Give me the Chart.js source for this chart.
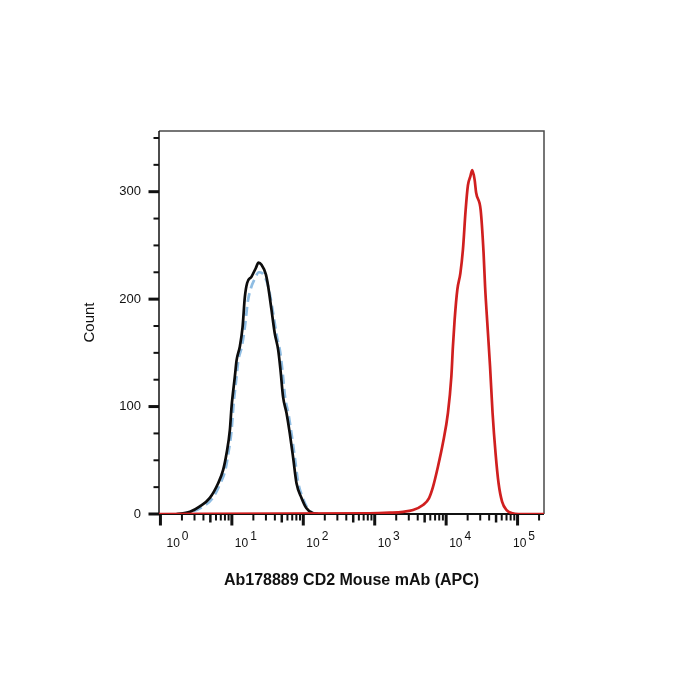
<!DOCTYPE html>
<html>
<head>
<meta charset="utf-8">
<script src="https://cdn.jsdelivr.net/npm/chart.js@4.4.0/dist/chart.umd.min.js"></script>
<style>
html, body { margin: 0; padding: 0; background: #fff; }
#wrap { width: 700px; height: 700px; }
</style>
</head>
<body>
<div id="wrap"><canvas id="chart" width="700" height="700"></canvas></div>
<script>
// x = log10(APC intensity), y = event count
var blackX = [0.227, 0.413, 0.552, 0.692, 0.808, 0.878, 0.926, 0.972, 0.996, 1.042, 1.066, 1.112, 1.150, 1.182, 1.214, 1.276, 1.336, 1.373, 1.415, 1.476, 1.508, 1.555, 1.601, 1.648, 1.681, 1.717, 1.765, 1.811, 1.857, 1.905, 1.975, 2.045, 2.137, 2.207];
var blackY = [0, 2, 7, 15, 28.6, 41, 56.5, 78, 100, 128, 143, 156, 174, 202, 215, 221, 229, 234, 232, 223, 212, 190, 168, 153, 134, 109, 94, 75, 53, 28.6, 15, 5.3, 0.6, 0];

var blueX = [0.273, 0.455, 0.594, 0.734, 0.839, 0.909, 0.951, 0.996, 1.021, 1.066, 1.091, 1.140, 1.182, 1.224, 1.266, 1.322, 1.378, 1.427, 1.490, 1.531, 1.580, 1.629, 1.676, 1.709, 1.745, 1.793, 1.835, 1.881, 1.927, 1.993, 2.063, 2.147, 2.217];
var blueY = [0, 2.5, 7, 15, 28.6, 41, 56.5, 78, 100, 128, 143, 156, 174, 198, 210, 219, 225, 224, 216, 205, 186, 166, 151, 133, 109, 93, 75, 53, 30, 15, 5, 0.6, 0];

var redX = [-0.02, 2.930, 3.210, 3.396, 3.536, 3.676, 3.759, 3.815, 3.885, 3.955, 4.025, 4.073, 4.095, 4.119, 4.157, 4.199, 4.235, 4.273, 4.305, 4.338, 4.366, 4.399, 4.420, 4.483, 4.524, 4.545, 4.580, 4.615, 4.650, 4.692, 4.734, 4.783, 4.846, 4.930, 5.014, 5.37];
var redY = [0, 0.6, 1.2, 2, 3.7, 8.4, 14.6, 25, 44, 66, 94, 128, 156, 181, 209, 224, 246, 283, 306, 314, 320, 311, 299, 283, 243, 212, 174, 137, 94, 56.5, 28.6, 11.5, 3.7, 0.6, 0, 0];

var decades = [0, 1, 2, 3, 4, 5];
var yTicks = [0, 25, 50, 75, 100, 125, 150, 175, 200, 225, 250, 275, 300, 325, 350];
var yLabels = [0, 100, 200, 300];

var FONT = '"Liberation Sans", Arial, sans-serif';

function pts(xs, ys) {
  return xs.map(function (x, i) { return { x: x, y: ys[i] }; });
}

// frame, tick marks and 10^n labels
var axisPlugin = {
  id: 'flowAxes',
  beforeDatasetsDraw: function (chart) {
    var ctx = chart.ctx, a = chart.chartArea;
    var xs = chart.scales.x, ys = chart.scales.y;
    ctx.save();
    ctx.lineCap = 'butt';

    // top / right frame
    ctx.strokeStyle = '#4a4a4a';
    ctx.lineWidth = 1.5;
    ctx.beginPath();
    ctx.moveTo(a.left, a.top); ctx.lineTo(a.right, a.top); ctx.lineTo(a.right, a.bottom);
    ctx.stroke();

    // left axis
    ctx.strokeStyle = '#111';
    ctx.beginPath();
    ctx.moveTo(a.left, a.top); ctx.lineTo(a.left, a.bottom + 1);
    ctx.stroke();

    // y ticks
    ys.ticks.forEach(function (t) {
      var py = ys.getPixelForValue(t.value);
      var major = yLabels.indexOf(t.value) >= 0;
      ctx.lineWidth = major ? 3 : 2;
      ctx.beginPath();
      ctx.moveTo(a.left, py);
      ctx.lineTo(a.left - (major ? 10.5 : 5.5), py);
      ctx.stroke();
    });

    // bottom axis
    ctx.lineWidth = 2;
    ctx.beginPath();
    ctx.moveTo(a.left - 1, a.bottom); ctx.lineTo(a.right, a.bottom);
    ctx.stroke();

    // x ticks
    xs.ticks.forEach(function (t) {
      var px = xs.getPixelForValue(t.value);
      var len = 6.5, w = 2;
      if (t.kind === 1) { len = 11.5; w = 3; }
      else if (t.kind === 5) { len = 8.5; w = 2.5; }
      ctx.lineWidth = w;
      ctx.beginPath();
      ctx.moveTo(px, a.bottom);
      ctx.lineTo(px, a.bottom + len);
      ctx.stroke();
    });

    // decade labels: "10" with superscript exponent
    ctx.fillStyle = '#111';
    ctx.textBaseline = 'alphabetic';
    ctx.textAlign = 'left';
    ctx.font = '12px ' + FONT;
    decades.forEach(function (n) {
      var px = xs.getPixelForValue(n);
      var w10 = ctx.measureText('10').width;
      var we = ctx.measureText(String(n)).width;
      var total = w10 + 2 + we;
      var left = px + 3;
      left = Math.max(left, a.left + 7.5);
      left = Math.min(left, a.right - 9 - total);
      ctx.fillText('10', left, a.bottom + 33);
      ctx.fillText(String(n), left + w10 + 2, a.bottom + 25.5);
    });
    ctx.restore();
  }
};

new Chart(document.getElementById('chart'), {
  type: 'line',
  data: {
    datasets: [
      {
        label: 'CD2 APC',
        data: pts(redX, redY),
        borderColor: '#d01f1f',
        borderWidth: 2.7,
        pointRadius: 0,
        cubicInterpolationMode: 'monotone',
        fill: false
      },
      {
        label: 'Unstained',
        data: pts(blackX, blackY),
        borderColor: '#0d0d0d',
        borderWidth: 2.7,
        pointRadius: 0,
        cubicInterpolationMode: 'monotone',
        fill: false
      },
      {
        label: 'Isotype',
        data: pts(blueX, blueY),
        borderColor: '#8fbde3',
        borderWidth: 2.7,
        borderDash: [9, 5],
        pointRadius: 0,
        cubicInterpolationMode: 'monotone',
        fill: false
      }
    ]
  },
  options: {
    responsive: false,
    animation: false,
    layout: { padding: { top: 131, right: 156, bottom: 0, left: 0 } },
    plugins: {
      legend: { display: false },
      tooltip: { enabled: false }
    },
    scales: {
      x: {
        type: 'linear',
        min: -0.02,
        max: 5.37,
        afterBuildTicks: function (scale) {
          var list = [];
          decades.forEach(function (n) {
            for (var k = 1; k <= 9; k++) {
              var v = n + Math.log10(k);
              if (v >= scale.min && v <= scale.max) list.push({ value: v, kind: k });
            }
          });
          scale.ticks = list;
        },
        afterFit: function (scale) { scale.height = 186; },
        ticks: { display: false },
        grid: { display: false, drawTicks: false },
        border: { display: false },
        title: {
          display: true,
          text: 'Ab178889 CD2 Mouse mAb (APC)',
          color: '#111',
          font: { family: FONT, size: 16, weight: 'bold' },
          padding: { top: 4, bottom: 109.5 }
        }
      },
      y: {
        type: 'linear',
        min: 0,
        max: 356.5,
        afterBuildTicks: function (scale) {
          scale.ticks = yTicks.map(function (v) { return { value: v }; });
        },
        afterFit: function (scale) { scale.width = 159; },
        ticks: {
          color: '#111',
          font: { family: FONT, size: 13 },
          padding: 18,
          callback: function (v) { return yLabels.indexOf(v) >= 0 ? String(v) : ''; }
        },
        grid: { display: false, drawTicks: false },
        border: { display: false },
        title: {
          display: true,
          text: 'Count',
          color: '#111',
          font: { family: FONT, size: 15 },
          padding: { top: 81, bottom: 4 }
        }
      }
    }
  },
  plugins: [axisPlugin]
});
</script>
</body>
</html>
